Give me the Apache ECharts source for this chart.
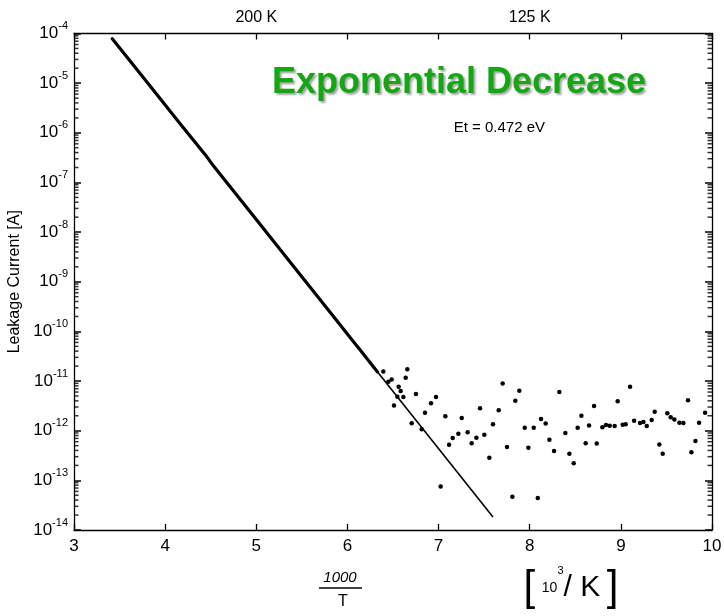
<!DOCTYPE html>
<html>
<head>
<meta charset="utf-8">
<script src="https://cdn.jsdelivr.net/npm/echarts@6/dist/echarts.min.js"></script>
<style>
html,body{margin:0;padding:0;background:#fff;}
#chart{width:724px;height:616px;}
</style>
</head>
<body>
<div id="chart"></div>
<script>
// ---- Data (x = 1000/T in 10^3/K, y = leakage current in A) ----
var measuredT = [3.42, 3.80, 4.16, 4.46, 4.51, 4.68, 5.00, 5.41, 5.88, 6.06, 6.14, 6.25, 6.33];
var measuredI = [7.87e-5, 1.05e-5, 1.55e-6, 3.24e-7, 2.42e-7, 9.8e-8, 1.79e-8, 2.03e-9, 1.67e-10, 6.43e-11, 4.2e-11, 2.34e-11, 1.53e-11];

var fitT = [3.417, 7.597];
var fitI = [8.0e-5, 1.83e-14];

var scatterT = [6.394, 6.449, 6.485, 6.657, 6.639, 6.562, 6.584, 6.548, 6.614, 6.511,
  6.752, 6.705, 6.815, 6.851, 6.917, 6.972, 7.023, 7.074, 7.115, 7.155,
  7.217, 7.254, 7.319, 7.363, 7.415, 7.455, 7.502, 7.557, 7.597, 7.660,
  7.703, 7.751, 7.810, 7.842, 7.886, 7.945, 7.985, 8.044, 8.088, 8.124,
  8.175, 8.216, 8.267, 8.325, 8.391, 8.435, 8.483, 8.526, 8.567, 8.614,
  8.651, 8.706, 8.735, 8.797, 8.837, 8.878, 8.932, 8.965, 9.020, 9.053,
  9.101, 9.145, 9.210, 9.247, 9.284, 9.338, 9.371, 9.422, 9.459, 9.510,
  9.547, 9.587, 9.642, 9.686, 9.737, 9.774, 9.818, 9.858, 9.924];
var scatterI = [1.55e-11, 9.7e-12, 1.08e-11, 1.72e-11, 1.17e-11, 7.7e-12, 6.3e-12, 4.85e-12, 4.78e-12, 3.2e-12,
  5.5e-12, 1.41e-12, 1.07e-12, 2.31e-12, 3.56e-12, 4.78e-12, 7.5e-14, 1.95e-12, 5.2e-13, 7.1e-13,
  8.7e-13, 1.80e-12, 9.3e-13, 5.6e-13, 7.2e-13, 2.82e-12, 8.3e-13, 2.86e-13, 1.35e-12, 2.58e-12,
  8.9e-12, 4.7e-13, 4.7e-14, 4.03e-12, 6.4e-12, 1.15e-12, 4.56e-13, 1.15e-12, 4.4e-14, 1.72e-12,
  1.39e-12, 6.6e-13, 3.9e-13, 6.0e-12, 9.0e-13, 3.45e-13, 2.2e-13, 1.14e-12, 2.01e-12, 5.6e-13,
  1.28e-12, 3.15e-12, 5.5e-13, 1.17e-12, 1.30e-12, 1.26e-12, 1.24e-12, 3.91e-12, 1.32e-12, 1.35e-12,
  7.7e-12, 1.59e-12, 1.43e-12, 1.50e-12, 1.24e-12, 1.64e-12, 2.42e-12, 5.3e-13, 3.45e-13, 2.24e-12,
  1.86e-12, 1.69e-12, 1.45e-12, 1.43e-12, 4.09e-12, 3.67e-13, 6.2e-13, 1.45e-12, 2.31e-12];

// ---- Axis / tick labels ----
var xMin = 3, xMax = 10;
var yMinExp = -14, yMaxExp = -4;
var topTickValues = [5, 8];
var topTickLabels = ['200 K', '125 K'];
var minorMantissas = [2, 3, 4, 5, 6, 7, 8, 9];

function zip(a, b) { return a.map(function (v, i) { return [v, b[i]]; }); }

var minorLeft = [], minorRight = [];
for (var e = yMinExp; e < yMaxExp; e++) {
  minorMantissas.forEach(function (m) {
    var v = m * Math.pow(10, e);
    minorLeft.push([xMin, v]);
    minorRight.push([xMax, v]);
  });
}

var FONT = 'Liberation Sans, Arial, sans-serif';
var chart = echarts.init(document.getElementById('chart'), null, {renderer: 'canvas'});

var axisLine = {show: true, lineStyle: {color: '#000', width: 1.3}};
var majorTick = {show: true, inside: true, length: 7, lineStyle: {color: '#000', width: 1.5}};

chart.setOption({
  animation: false,
  backgroundColor: '#fff',
  grid: {left: 74, right: 12, top: 33.5, bottom: 86, containLabel: false, outerBoundsMode: 'none'},
  xAxis: [{
    type: 'value', position: 'bottom', min: xMin, max: xMax, interval: 1,
    axisLine: axisLine,
    axisTick: {show: true, inside: true, length: 6, lineStyle: {color: '#000', width: 1.3}},
    axisLabel: {color: '#000', fontSize: 17, fontFamily: FONT, margin: 8},
    splitLine: {show: false}
  }, {
    type: 'value', position: 'top', min: xMin, max: xMax, interval: 1,
    axisLine: axisLine,
    axisTick: {show: true, inside: true, length: 6, lineStyle: {color: '#000', width: 1.3}},
    axisLabel: {
      color: '#000', fontSize: 16, fontFamily: FONT, margin: 8,
      formatter: function (v) {
        var i = topTickValues.indexOf(Math.round(v * 1000) / 1000);
        return i >= 0 ? topTickLabels[i] : '';
      }
    },
    splitLine: {show: false}
  }],
  yAxis: [{
    type: 'log', logBase: 10, position: 'left',
    min: Math.pow(10, yMinExp), max: Math.pow(10, yMaxExp), interval: 1,
    name: 'Leakage Current [A]', nameLocation: 'middle', nameGap: 45,
    nameTextStyle: {color: '#000', fontSize: 16, fontFamily: FONT},
    axisLine: axisLine,
    axisTick: majorTick,
    axisLabel: {
      margin: 6,
      formatter: function (v) {
        var ex = Math.round(Math.log(v) / Math.LN10);
        return '{b|10}{s|' + ex + '}';
      },
      rich: {
        b: {fontSize: 17, fontFamily: FONT, color: '#000', lineHeight: 26},
        s: {fontSize: 11, fontFamily: FONT, color: '#000', lineHeight: 11, verticalAlign: 'top'}
      }
    },
    splitLine: {show: false}
  }, {
    type: 'log', logBase: 10, position: 'right',
    min: Math.pow(10, yMinExp), max: Math.pow(10, yMaxExp), interval: 1,
    axisLine: axisLine,
    axisTick: majorTick,
    axisLabel: {show: false},
    splitLine: {show: false}
  }],
  series: [{
    type: 'scatter', name: 'minorLeft', data: minorLeft, silent: true, clip: false,
    symbol: 'rect', symbolSize: [4.5, 1.5], symbolOffset: [2.25, 0],
    itemStyle: {color: '#000'}, z: 6
  }, {
    type: 'scatter', name: 'minorRight', data: minorRight, silent: true, clip: false,
    symbol: 'rect', symbolSize: [4.5, 1.5], symbolOffset: [-2.25, 0],
    itemStyle: {color: '#000'}, z: 6
  }, {
    type: 'line', name: 'fit', data: zip(fitT, fitI),
    showSymbol: false, symbol: 'none',
    lineStyle: {color: '#000', width: 1.6}, z: 3
  }, {
    type: 'line', name: 'measured', data: zip(measuredT, measuredI),
    showSymbol: false, symbol: 'none',
    lineStyle: {color: '#000', width: 3.2, cap: 'round', join: 'round'}, z: 4
  }, {
    type: 'scatter', name: 'noise', data: zip(scatterT, scatterI),
    symbol: 'circle', symbolSize: 4.5,
    itemStyle: {color: '#000', opacity: 1}, z: 5
  }],
  graphic: [{
    type: 'text',
    style: {
      text: 'Exponential Decrease', x: 459, y: 83,
      textAlign: 'center', textVerticalAlign: 'middle',
      font: 'bold 36px ' + FONT, fill: '#13a813',
      textShadowColor: 'rgba(0,0,0,0.35)', textShadowBlur: 2,
      textShadowOffsetX: 2, textShadowOffsetY: 2
    }
  }, {
    type: 'text',
    style: {
      text: 'Et = 0.472 eV', x: 545, y: 128,
      textAlign: 'right', textVerticalAlign: 'middle',
      font: '15px ' + FONT, fill: '#000'
    }
  }, {
    type: 'text',
    style: {
      text: '1000', x: 340, y: 578, textAlign: 'center', textVerticalAlign: 'middle',
      font: 'italic 15px ' + FONT, fill: '#000'
    }
  }, {
    type: 'line',
    shape: {x1: 319, y1: 588, x2: 362, y2: 588},
    style: {stroke: '#000', lineWidth: 1.5}
  }, {
    type: 'text',
    style: {
      text: 'T', x: 343, y: 602, textAlign: 'center', textVerticalAlign: 'middle',
      font: '16px ' + FONT, fill: '#000'
    }
  }, {
    type: 'text',
    style: {
      text: '{br|[}  {n|10}{sup|3}{k|/ K}  {br|]}', x: 571, y: 588,
      textAlign: 'center', textVerticalAlign: 'middle',
      rich: {
        br: {fontSize: 42, fontFamily: FONT, fill: '#000', lineHeight: 46},
        n: {fontSize: 14, fontFamily: FONT, fill: '#000', lineHeight: 30},
        sup: {fontSize: 11, fontFamily: FONT, fill: '#000', lineHeight: 11, verticalAlign: 'top'},
        k: {fontSize: 30, fontFamily: FONT, fill: '#000', lineHeight: 30}
      }
    }
  }]
});
</script>
</body>
</html>
